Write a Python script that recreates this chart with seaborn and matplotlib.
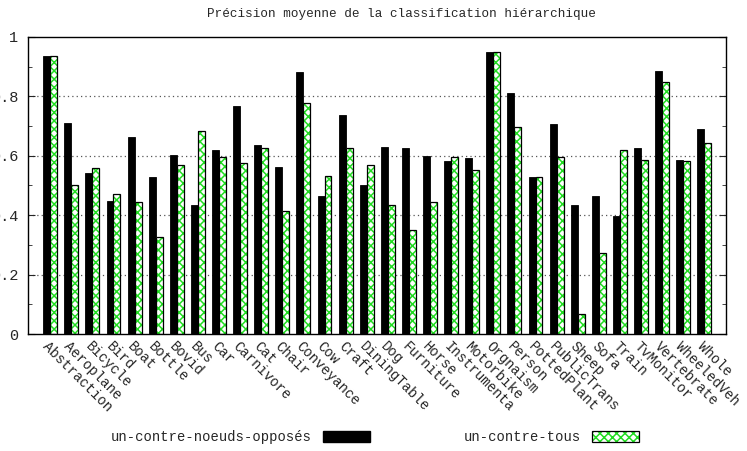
import matplotlib
matplotlib.use('Agg')
import matplotlib.pyplot as plt
import seaborn as sns
import pandas as pd
from matplotlib.patches import Rectangle, Patch
from matplotlib.legend_handler import HandlerTuple

categories = ['Abstraction', 'Aeroplane', 'Bicycle', 'Bird', 'Boat', 'Bottle', 'Bovid', 'Bus',
              'Car', 'Carnivore', 'Cat', 'Chair', 'Conveyance', 'Cow', 'Craft', 'DiningTable',
              'Dog', 'Furniture', 'Horse', 'Instrumenta', 'Motorbike', 'Orgnaism', 'Person',
              'PottedPlant', 'PublicTrans', 'Sheep', 'Sofa', 'Train', 'TvMonitor', 'Vertebrate',
              'WheeledVeh', 'Whole']
noeuds_opposes = [0.937, 0.710, 0.542, 0.449, 0.664, 0.530, 0.604, 0.433,
                  0.621, 0.769, 0.637, 0.563, 0.883, 0.466, 0.737, 0.502,
                  0.631, 0.627, 0.600, 0.584, 0.594, 0.951, 0.813,
                  0.530, 0.707, 0.435, 0.466, 0.397, 0.627, 0.887,
                  0.587, 0.691]
contre_tous = [0.937, 0.502, 0.559, 0.472, 0.444, 0.328, 0.570, 0.685,
               0.596, 0.576, 0.625, 0.413, 0.778, 0.532, 0.626, 0.570,
               0.434, 0.350, 0.443, 0.596, 0.551, 0.948, 0.697,
               0.530, 0.596, 0.067, 0.273, 0.621, 0.586, 0.850,
               0.581, 0.643]
series = ['un-contre-noeuds-opposés', 'un-contre-tous']

df = pd.DataFrame({
    'classe': categories * 2,
    'precision': noeuds_opposes + contre_tous,
    'methode': [series[0]] * len(categories) + [series[1]] * len(categories),
})

sns.set_style('ticks')
plt.rcParams['font.family'] = ['Liberation Mono', 'DejaVu Sans']
plt.rcParams['hatch.linewidth'] = 1.1

vert = '#22dd22'

fig = plt.figure(figsize=(7.47, 4.51), dpi=100)
ax = fig.add_axes([0.0375, 0.2594, 0.9345, 0.6586])
sns.barplot(data=df, x='classe', y='precision', hue='methode', palette=['black', 'white'],
            width=0.66, ax=ax, legend=False, errorbar=None)

# barres noires pleines, barres vertes hachurées avec contour noir
n = len(categories)
for i, p in enumerate(ax.patches[:2 * n]):
    if i < n:
        p.set_facecolor('black')
        p.set_edgecolor('black')
        p.set_linewidth(0.6)
    else:
        p.set_facecolor('white')
        p.set_edgecolor(vert)
        p.set_hatch('xxxx')
        p.set_linewidth(0)
        ax.add_patch(Rectangle((p.get_x(), p.get_y()), p.get_width(), p.get_height(),
                               fill=False, edgecolor='black', linewidth=0.9, zorder=p.get_zorder() + 0.1))

ax.set_xlim(-1.05, len(categories) - 1 + 1.03)
ax.set_ylim(0, 1)
ax.set_yticks([0, 0.2, 0.4, 0.6, 0.8, 1])
ax.set_yticklabels(['0', '0.2', '0.4', '0.6', '0.8', '1'])
ax.set_yticks([0.1, 0.3, 0.5, 0.7, 0.9], minor=True)
ax.tick_params(axis='y', which='both', direction='in', right=True, labelsize=11, pad=7)
ax.tick_params(axis='y', which='major', length=5)
ax.tick_params(axis='y', which='minor', length=3)
ax.set_xticks(range(n))
ax.set_xticklabels(categories, rotation=-45, ha='left', va='top', rotation_mode='anchor', fontsize=10)
ax.tick_params(axis='x', length=0, pad=4)
for y in [0.2, 0.4, 0.6, 0.8]:
    ax.axhline(y, color='#555555', linestyle=(0, (1, 2.5)), linewidth=0.9, zorder=0)
for s in ax.spines.values():
    s.set_linewidth(1.0)
    s.set_color('black')
ax.set_xlabel('')
ax.set_ylabel('')

fig.text(0.537, 0.969, 'Précision moyenne de la classification hiérarchique',
         ha='center', va='center', fontsize=9.1)

h1 = Patch(facecolor='black', edgecolor='black')
h2 = (Patch(facecolor='white', edgecolor=vert, hatch='xxxx', linewidth=0),
      Patch(fill=False, edgecolor='black', linewidth=0.9))
fig.legend([h1, h2], series, loc='center', bbox_to_anchor=(0.502, 0.031), ncol=2,
           markerfirst=False, frameon=False, handlelength=3.4, handleheight=0.8,
           columnspacing=6.7, fontsize=10, handler_map={tuple: HandlerTuple(ndivide=1)})

fig.savefig('out.png', dpi=100)
